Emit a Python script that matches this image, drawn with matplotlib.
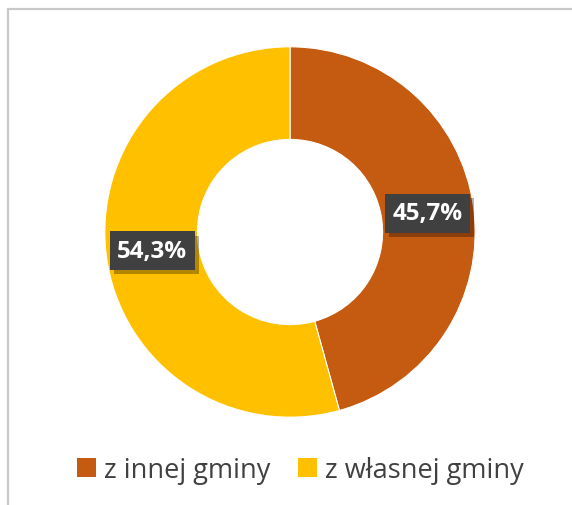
import matplotlib.pyplot as plt
import matplotlib.patheffects as pe
from matplotlib.patches import Rectangle, Patch
import numpy as np

categories = ['z innej gminy', 'z własnej gminy']
values = [45.7, 54.3]
labels = ['45,7%', '54,3%']
colors = ['#C55A11', '#FFC000']

fig = plt.figure(figsize=(5.72, 5.06), dpi=100)

# outer frame (light grey, cut off at right and bottom)
fig.patches.append(Rectangle((8 / 572, -0.05), 1.1, 1 - 10 / 506 + 0.05,
                             transform=fig.transFigure, fill=False,
                             edgecolor='#C9C9C9', linewidth=1.6))

# pie axes: 400x400 px, centre at (290, 233) from top-left
ax = fig.add_axes([(290 - 200) / 572, (506 - 233 - 200) / 506, 400 / 572, 400 / 506])

wedges, _ = ax.pie(values, colors=colors, startangle=90, counterclock=False,
                   radius=1.0, wedgeprops=dict(width=0.5, edgecolor='white', linewidth=0.8))
ax.set_xlim(-1.08, 1.08)
ax.set_ylim(-1.08, 1.08)
ax.set_aspect('equal')
ax.axis('off')

# data labels in dark boxes
for w, lab in zip(wedges, labels):
    ang = np.deg2rad((w.theta1 + w.theta2) / 2)
    x, y = 0.75 * np.cos(ang), 0.75 * np.sin(ang)
    ax.text(x, y, lab, ha='center', va='center', color='white', fontsize=17.5,
            fontweight='bold', family='Open Sans',
            bbox=dict(boxstyle='square,pad=0.3', facecolor='#404040', edgecolor='none',
                      path_effects=[pe.withSimplePatchShadow(offset=(3, -3), shadow_rgbFace='#000000', alpha=0.3)]))

handles = [Patch(facecolor=c, label=n) for c, n in zip(colors, categories)]
fig.legend(handles=handles, loc='center', bbox_to_anchor=(0.525, 1 - 471 / 506), ncol=2,
           frameon=False, prop={'family': 'Open Sans', 'size': 19.5},
           handlelength=0.7, handleheight=0.7, handletextpad=0.3, columnspacing=1.0,
           labelcolor='#404040')

fig.savefig('out.png', dpi=100, facecolor='white')
